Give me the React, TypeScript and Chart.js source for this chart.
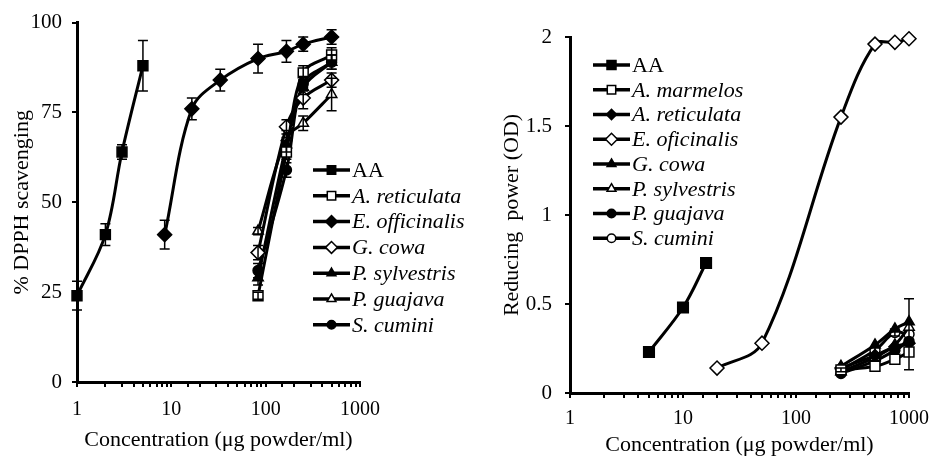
import React, { useEffect, useRef } from 'react';
import { Chart, registerables } from 'chart.js';
import { drawPoint } from 'chart.js/helpers';

Chart.register(...registerables);

const FONT = '"Liberation Serif", "Times New Roman", serif';

// ---------- Left panel: DPPH scavenging (%) ----------
const dpphAAConc = [1, 2, 3, 5];
const dpphAA = [24, 41, 64, 88];
const dpphAAErr = [4, 3, 2, 7];

const dpphEoConc = [8.5, 16.5, 33, 83, 166, 250, 500];
const dpphEo = [41, 76, 84, 90, 92, 94, 96];
const dpphEoErr = [4, 3, 3, 4, 3, 2, 2];

const dpphConc = [83, 166, 250, 500];
const dpphAret = [24, 64, 86, 91];
const dpphAretErr = [1, 2, 2, 2];
const dpphGcowa = [36, 71, 79, 84];
const dpphGcowaErr = [2, 2, 3, 2];
const dpphPsyl = [29, 66, 82, 89];
const dpphPsylErr = [2, 2, 2, 2];
const dpphPguaj = [42, 68, 72, 80];
const dpphPguajErr = [1, 2, 2, 4.5];
const dpphScum = [31, 59, 83, 89];
const dpphScumErr = [2, 2, 2, 2];

// ---------- Right panel: Reducing power (OD) ----------
const rpAAConc = [5, 10, 16];
const rpAA = [0.23, 0.48, 0.73];

const rpEoConc = [20, 50, 250, 500, 750, 1000];
const rpEo = [0.14, 0.28, 1.55, 1.96, 1.97, 1.99];

const rpConc = [250, 500, 750, 1000];
const rpAmar = [0.13, 0.15, 0.19, 0.23];
const rpAret = [0.14, 0.21, 0.26, 0.28];
const rpGcowa = [0.15, 0.27, 0.36, 0.4];
const rpPsyl = [0.12, 0.2, 0.27, 0.37];
const rpPguaj = [0.11, 0.18, 0.24, 0.29];
const rpScum = [0.13, 0.24, 0.34, 0.33];
const rpScumErr = [0.01, 0.02, 0.02, 0.2];

const xTicksLabel = (v: number) => {
  const l = Math.log10(v);
  return Math.abs(l - Math.round(l)) < 1e-9 ? String(v) : '';
};

function series(label: string, xs: number[], ys: number[], style: string, filled: boolean, radius: number, errors?: number[]) {
  return {
    label,
    data: xs.map((x, i) => ({ x, y: ys[i] })),
    errors,
    italic: label !== 'AA',
    borderColor: '#000',
    borderWidth: 3,
    tension: 0.35,
    fill: false,
    pointStyle: style,
    pointRadius: radius,
    pointBackgroundColor: filled ? '#000' : '#fff',
    pointBorderColor: '#000',
    pointBorderWidth: 1.5,
    clip: false,
  };
}

const errorBars = {
  id: 'errorBars',
  afterDatasetsDraw(chart: any) {
    const ctx = chart.ctx;
    const ys = chart.scales.y;
    chart.data.datasets.forEach((ds: any, i: number) => {
      if (!ds.errors) return;
      const meta = chart.getDatasetMeta(i);
      meta.data.forEach((pt: any, j: number) => {
        const e = ds.errors[j];
        if (!e) return;
        const v = ds.data[j].y;
        const top = ys.getPixelForValue(v + e);
        const bot = ys.getPixelForValue(v - e);
        ctx.save();
        ctx.strokeStyle = '#000';
        ctx.lineWidth = 1.5;
        ctx.beginPath();
        ctx.moveTo(pt.x, top);
        ctx.lineTo(pt.x, bot);
        ctx.moveTo(pt.x - 5, top);
        ctx.lineTo(pt.x + 5, top);
        ctx.moveTo(pt.x - 5, bot);
        ctx.lineTo(pt.x + 5, bot);
        ctx.stroke();
        ctx.restore();
      });
    });
  },
};

const seriesKey = {
  id: 'seriesKey',
  afterDraw(chart: any, _args: any, opts: any) {
    const ctx = chart.ctx;
    chart.data.datasets.forEach((ds: any, i: number) => {
      const y = opts.y + i * opts.rowH;
      ctx.save();
      ctx.strokeStyle = '#000';
      ctx.lineWidth = 3.5;
      ctx.beginPath();
      ctx.moveTo(opts.x, y);
      ctx.lineTo(opts.x + opts.len, y);
      ctx.stroke();
      ctx.fillStyle = ds.pointBackgroundColor;
      ctx.strokeStyle = '#000';
      ctx.lineWidth = 1.5;
      drawPoint(ctx, { pointStyle: ds.pointStyle, radius: ds.pointRadius * 0.85, borderWidth: 1.5, rotation: 0 }, opts.x + opts.len / 2, y);
      ctx.fillStyle = '#000';
      ctx.font = (ds.italic ? 'italic ' : '') + '22px ' + FONT;
      ctx.textBaseline = 'middle';
      ctx.textAlign = 'left';
      ctx.fillText(ds.label, opts.x + opts.len + 2, y + 1);
      ctx.restore();
    });
  },
};

function makeOptions(cfg: any) {
  return {
    responsive: false,
    animation: false,
    layout: { padding: { left: 0, top: cfg.top, right: cfg.right, bottom: 0 } },
    plugins: {
      legend: { display: false },
      tooltip: { enabled: false },
      seriesKey: cfg.key,
    },
    scales: {
      x: {
        type: 'logarithmic',
        min: 1,
        max: 1000,
        afterFit: (s: any) => { s.height = cfg.xH; },
        border: { display: true, color: '#000', width: 3 },
        grid: { display: true, drawOnChartArea: false, drawTicks: true, tickLength: 5, color: '#000', lineWidth: 2 },
        ticks: {
          autoSkip: false,
          maxRotation: 0,
          color: '#000',
          padding: cfg.xTickPad,
          font: { family: FONT, size: 20 },
          callback: (v: any) => xTicksLabel(Number(v)),
        },
        title: {
          display: true,
          text: 'Concentration (μg powder/ml)',
          color: '#000',
          font: { family: FONT, size: 22 },
          padding: { top: 0, bottom: cfg.xTitlePad },
        },
      },
      y: {
        type: 'linear',
        min: 0,
        max: cfg.ymax,
        afterFit: (s: any) => { s.width = cfg.yW; },
        border: { display: true, color: '#000', width: 3 },
        grid: { display: true, drawOnChartArea: false, drawTicks: true, tickLength: 5, color: '#000', lineWidth: 2 },
        ticks: {
          stepSize: cfg.step,
          color: '#000',
          padding: cfg.yTickPad,
          font: { family: FONT, size: 21 },
          callback: (v: any) => String(v),
        },
        title: {
          display: true,
          text: cfg.yTitle,
          color: '#000',
          font: { family: FONT, size: 22 },
          padding: { top: cfg.yTitlePad, bottom: 0 },
        },
      },
    },
  };
}

function Panel({ width, height, left, datasets, cfg }: any) {
  const ref = useRef<HTMLCanvasElement>(null);
  useEffect(() => {
    if (!ref.current) return;
    const chart = new Chart(ref.current, {
      type: 'line',
      data: { datasets },
      options: makeOptions(cfg) as any,
      plugins: [errorBars, seriesKey],
    } as any);
    return () => chart.destroy();
  }, []);
  return (
    <canvas
      ref={ref}
      width={width}
      height={height}
      style={{ position: 'absolute', left, top: 0, width, height }}
    />
  );
}

export default function App() {
  const leftSets = [
    series('AA', dpphAAConc, dpphAA, 'rect', true, 7, dpphAAErr),
    series('A. reticulata', dpphConc, dpphAret, 'rect', false, 7, dpphAretErr),
    series('E. officinalis', dpphEoConc, dpphEo, 'rectRot', true, 7, dpphEoErr),
    series('G. cowa', dpphConc, dpphGcowa, 'rectRot', false, 7, dpphGcowaErr),
    series('P. sylvestris', dpphConc, dpphPsyl, 'triangle', true, 6, dpphPsylErr),
    series('P. guajava', dpphConc, dpphPguaj, 'triangle', false, 6, dpphPguajErr),
    series('S. cumini', dpphConc, dpphScum, 'circle', true, 5, dpphScumErr),
  ];
  const rightSets = [
    series('AA', rpAAConc, rpAA, 'rect', true, 7.5),
    series('A. marmelos', rpConc, rpAmar, 'rect', false, 7),
    series('A. reticulata', rpConc, rpAret, 'rectRot', true, 6),
    series('E. oficinalis', rpEoConc, rpEo, 'rectRot', false, 7),
    series('G. cowa', rpConc, rpGcowa, 'triangle', true, 6),
    series('P. sylvestris', rpConc, rpPsyl, 'triangle', false, 6),
    series('P. guajava', rpConc, rpPguaj, 'circle', true, 5),
    series('S. cumini', rpConc, rpScum, 'circle', false, 5, rpScumErr),
  ];
  const leftCfg = {
    top: 20, right: 110, xH: 77, yW: 77, ymax: 100, step: 25,
    xTickPad: 11, xTitlePad: 6, yTickPad: 10, yTitlePad: 9,
    yTitle: '% DPPH scavenging',
    key: { x: 313, y: 170, rowH: 25.8, len: 37 },
  };
  const rightCfg = {
    top: 37, right: 24, xH: 66, yW: 100, ymax: 2, step: 0.5,
    xTickPad: 9, xTitlePad: 1, yTickPad: 13, yTitlePad: 29,
    yTitle: 'Reducing  power (OD)',
    key: { x: 123, y: 65, rowH: 24.76, len: 37 },
  };
  return (
    <div style={{ position: 'absolute', left: 0, top: 0, width: 938, height: 459, background: '#fff' }}>
      <Panel width={470} height={459} left={0} datasets={leftSets} cfg={leftCfg} />
      <Panel width={468} height={459} left={470} datasets={rightSets} cfg={rightCfg} />
    </div>
  );
}
